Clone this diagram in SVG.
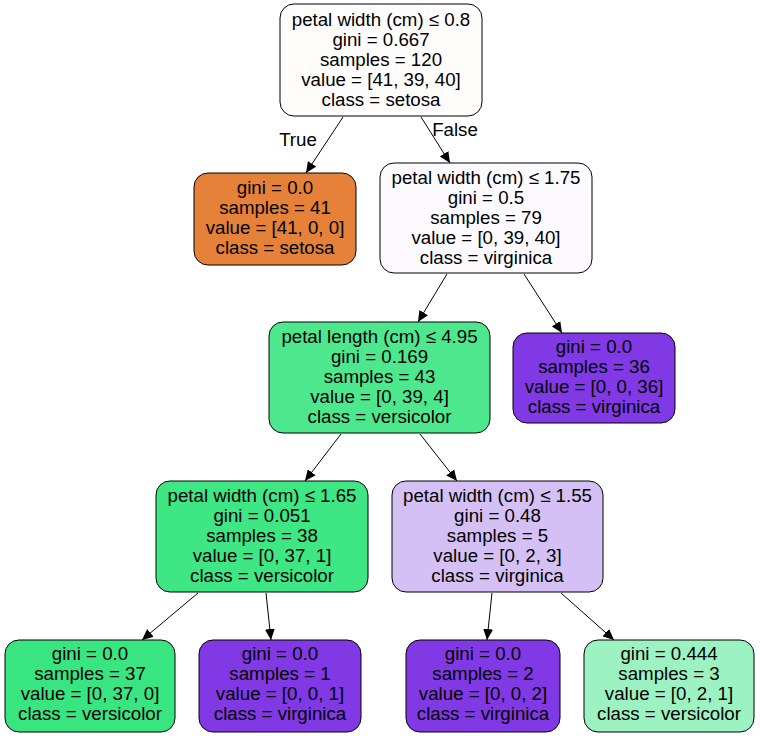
<svg xmlns="http://www.w3.org/2000/svg" width="760" height="736" viewBox="0 0 760 736">
<style>
.n rect{stroke:#000;stroke-width:1}
text{font-family:"Liberation Sans",Arial,sans-serif;font-size:18.7px;fill:#000;text-anchor:middle}
.e line{stroke:#000;stroke-width:1;marker-end:url(#ah)}
</style>
<defs>
<marker id="ah" markerUnits="userSpaceOnUse" markerWidth="12" markerHeight="10" viewBox="0 0 12 10" refX="11" refY="5" orient="auto">
<path d="M0,0 L11,5 L0,10 Z" fill="#000"/>
</marker>
</defs>
<rect width="760" height="736" fill="#fff"/>
<g id="edges" class="e">
<line x1="343" y1="117" x2="306" y2="173"/>
<line x1="421" y1="117" x2="450" y2="163"/>
<line x1="447" y1="274" x2="418" y2="322"/>
<line x1="524" y1="274" x2="562" y2="333"/>
<line x1="341" y1="434" x2="305" y2="481"/>
<line x1="420" y1="434" x2="457" y2="481"/>
<line x1="198" y1="593" x2="142" y2="640"/>
<line x1="266" y1="593" x2="271" y2="640"/>
<line x1="492" y1="593" x2="487" y2="640"/>
<line x1="561" y1="593" x2="614" y2="640"/>
<text x="298" y="146">True</text>
<text x="455" y="136">False</text>
</g>
<g id="n0" class="n">
<rect x="280" y="4" width="202" height="112" rx="14" fill="#fffdfc"/>
<text x="381" y="26">petal width (cm) ≤ 0.8</text>
<text x="381" y="46">gini = 0.667</text>
<text x="381" y="66">samples = 120</text>
<text x="381" y="86">value = [41, 39, 40]</text>
<text x="381" y="106">class = setosa</text>
</g>
<g id="n1" class="n">
<rect x="194" y="173" width="162" height="92" rx="14" fill="#e58139"/>
<text x="275" y="194">gini = 0.0</text>
<text x="275" y="214">samples = 41</text>
<text x="275" y="234">value = [41, 0, 0]</text>
<text x="275" y="254">class = setosa</text>
</g>
<g id="n2" class="n">
<rect x="380" y="163" width="212" height="110" rx="14" fill="#fcfaff"/>
<text x="486" y="184">petal width (cm) ≤ 1.75</text>
<text x="486" y="204">gini = 0.5</text>
<text x="486" y="224">samples = 79</text>
<text x="486" y="244">value = [0, 39, 40]</text>
<text x="486" y="264">class = virginica</text>
</g>
<g id="n3" class="n">
<rect x="269" y="322" width="221" height="111" rx="14" fill="#4de88e"/>
<text x="379.500" y="343">petal length (cm) ≤ 4.95</text>
<text x="379.500" y="363">gini = 0.169</text>
<text x="379.500" y="383">samples = 43</text>
<text x="379.500" y="403">value = [0, 39, 4]</text>
<text x="379.500" y="423">class = versicolor</text>
</g>
<g id="n4" class="n">
<rect x="513" y="333" width="162" height="90" rx="14" fill="#8139e5"/>
<text x="594" y="353">gini = 0.0</text>
<text x="594" y="373">samples = 36</text>
<text x="594" y="393">value = [0, 0, 36]</text>
<text x="594" y="413">class = virginica</text>
</g>
<g id="n5" class="n">
<rect x="156" y="481" width="212" height="111" rx="14" fill="#3ee684"/>
<text x="262" y="502">petal width (cm) ≤ 1.65</text>
<text x="262" y="522">gini = 0.051</text>
<text x="262" y="542">samples = 38</text>
<text x="262" y="562">value = [0, 37, 1]</text>
<text x="262" y="582">class = versicolor</text>
</g>
<g id="n6" class="n">
<rect x="392" y="481" width="211" height="111" rx="14" fill="#d5c0f6"/>
<text x="497.500" y="502">petal width (cm) ≤ 1.55</text>
<text x="497.500" y="522">gini = 0.48</text>
<text x="497.500" y="542">samples = 5</text>
<text x="497.500" y="562">value = [0, 2, 3]</text>
<text x="497.500" y="582">class = virginica</text>
</g>
<g id="n7" class="n">
<rect x="5" y="640" width="170" height="92" rx="14" fill="#39e581"/>
<text x="90" y="660">gini = 0.0</text>
<text x="90" y="680">samples = 37</text>
<text x="90" y="700">value = [0, 37, 0]</text>
<text x="90" y="720">class = versicolor</text>
</g>
<g id="n8" class="n">
<rect x="199" y="640" width="162" height="92" rx="14" fill="#8139e5"/>
<text x="280" y="660">gini = 0.0</text>
<text x="280" y="680">samples = 1</text>
<text x="280" y="700">value = [0, 0, 1]</text>
<text x="280" y="720">class = virginica</text>
</g>
<g id="n9" class="n">
<rect x="406" y="640" width="154" height="92" rx="14" fill="#8139e5"/>
<text x="483" y="660">gini = 0.0</text>
<text x="483" y="680">samples = 2</text>
<text x="483" y="700">value = [0, 0, 2]</text>
<text x="483" y="720">class = virginica</text>
</g>
<g id="n10" class="n">
<rect x="584" y="640" width="170" height="92" rx="14" fill="#9cf2c0"/>
<text x="669" y="660">gini = 0.444</text>
<text x="669" y="680">samples = 3</text>
<text x="669" y="700">value = [0, 2, 1]</text>
<text x="669" y="720">class = versicolor</text>
</g>
</svg>
